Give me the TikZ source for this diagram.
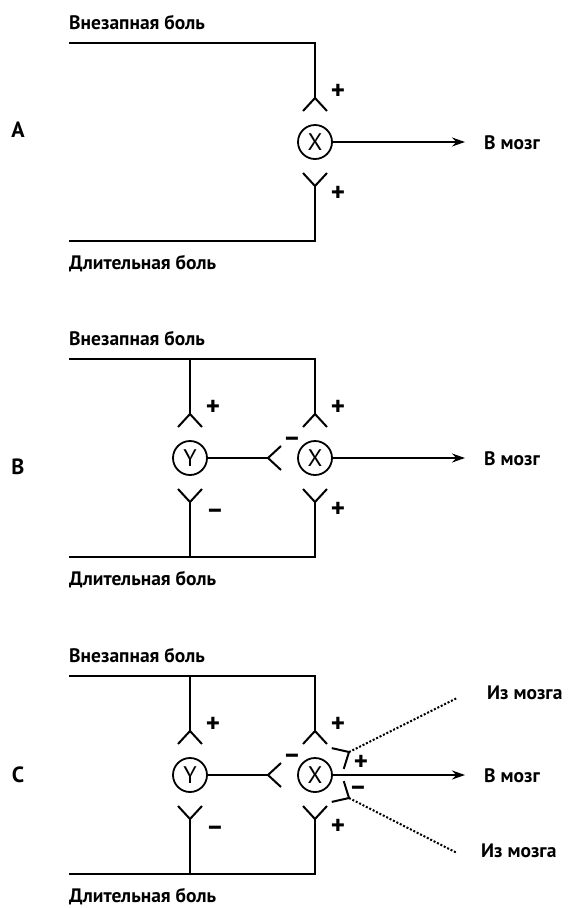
\documentclass[tikz,border=0pt]{standalone}
\usepackage{fontspec}
\setmainfont{PT Sans}
\usepackage{tikz}
\usetikzlibrary{arrows.meta}
\tikzset{
	main node/.style={circle,draw,line width=1.8pt,minimum size=34pt,inner sep=0pt,font=\fontsize{24}{24}\selectfont},
	lbl/.style={anchor=base west,inner sep=0pt,font=\bfseries\fontsize{19.5}{20}\selectfont},
	panel/.style={inner sep=0pt,font=\bfseries\fontsize{22}{22}\selectfont},
	sign/.style={inner sep=0pt,text height=1.4ex,text depth=0pt,font=\bfseries\fontsize{27}{27}\selectfont},
	fibre/.style={line width=2pt},
	from brain/.style={line width=2pt,dash pattern=on 2pt off 1.8pt},
	syn/.pic={\draw[line width=2pt] (-12,13) -- (0,0) -- (12,13);}
}

\begin{document}
\begin{tikzpicture}[x=1pt,y=-1pt,>={Stealth[length=13pt,width=9pt]}]
	\useasboundingbox (0,0) rectangle (573,908);
	% the three panels share the X cell and both inputs
	\foreach \p/\dy in {a/0,b/316,c/633}{
	  \begin{scope}[yshift=-\dy pt]
		\node [lbl] (in\p) at (69,29) {Внезапная боль};
		\node [lbl] (long\p) at (69,269.5) {Длительная боль};
		\node [main node] (x\p) at (315,142) {X};
		\coordinate (s\p) at (69,42.5);
		\coordinate (e\p) at (69,241);
		\coordinate (xt\p) at (315,98);
		\coordinate (xb\p) at (315,186);
		\coordinate (brain\p) at (465,142);
		\node [lbl] (to\p) at (484,149) {В мозг};
		\draw [fibre] (s\p) -- (315,42.5) -- (xt\p);
		\draw [fibre] (e\p) -- (315,241) -- (xb\p);
		\pic at (xt\p) {syn};
		\pic [rotate=180] at (xb\p) {syn};
		\draw [fibre,->] (x\p) -- (brain\p);
		\node [sign] (pt\p) at (338,96) {+};
		\node [sign] (pb\p) at (338,198) {+};
	  \end{scope}
	}
	% Y cell inhibiting X (panels B and C)
	\foreach \p/\dy in {b/316,c/633}{
	  \begin{scope}[yshift=-\dy pt]
		\node [main node] (y\p) at (190,142) {Y};
		\coordinate (jt\p) at (190,42.5);
		\coordinate (jb\p) at (190,241);
		\coordinate (yt\p) at (190,98);
		\coordinate (yb\p) at (190,186);
		\coordinate (ya\p) at (268,142);
		\draw [fibre] (jt\p) -- (yt\p);
		\draw [fibre] (jb\p) -- (yb\p);
		\draw [fibre] (y\p) -- (ya\p);
		\pic at (yt\p) {syn};
		\pic [rotate=180] at (yb\p) {syn};
		\pic [rotate=90] at (ya\p) {syn};
		\node [sign] (qt\p) at (213,96) {+};
		\node [sign] (qb\p) at (215,199) {–};
		\node [sign] (qa\p) at (292,127) {–};
	  \end{scope}
	}
	% fibres coming down from the brain (panel C)
	\coordinate (du) at (349,752);
	\coordinate (dl) at (349,798);
	\coordinate (fu) at (457,698);
	\coordinate (fl) at (457,853);
	\draw [from brain] (du) -- (fu);
	\draw [from brain] (dl) -- (fl);
	\pic [rotate=-60] at (du) {syn};
	\pic [rotate=-120] at (dl) {syn};
	\node [sign] (ru) at (361,767) {+};
	\node [sign] (rl) at (358,792) {–};
	\node [lbl] (iu) at (487,699) {Из мозга};
	\node [lbl] (il) at (481,857) {Из мозга};
	% panel letters
	\node [panel] (pa) at (18,130) {A};
	\node [panel] (pb) at (18,467) {B};
	\node [panel] (pc) at (18,775) {C};
\end{tikzpicture}
\end{document}
